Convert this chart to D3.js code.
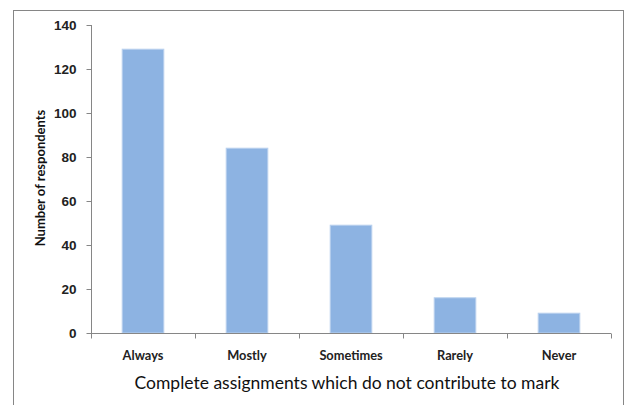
<!DOCTYPE html>
<html>
<head>
<meta charset="utf-8">
<script src="https://cdn.jsdelivr.net/npm/d3@7"></script>
<style>
  body { margin: 0; background: #fff; }
  svg { display: block; font-family: Lato, "Open Sans", sans-serif; }
  .axis path, .axis line { stroke: #868686; }
  .tick text { font-size: 13.5px; font-weight: bold; fill: #222; }
</style>
</head>
<body>
<div id="chart"></div>
<script>
  const categories = ['Always', 'Mostly', 'Sometimes', 'Rarely', 'Never'];
  const respondents = [129, 84, 49, 16, 9];
  const yTicks = [0, 20, 40, 60, 80, 100, 120, 140];

  const W = 630, H = 405;
  const margin = { top: 25, right: 19, bottom: 72, left: 91 };

  const svg = d3.select('#chart').append('svg')
    .attr('width', W)
    .attr('height', H);

  // outer chart frame (bottom edge sits outside the image)
  svg.append('rect')
    .attr('x', 13.5).attr('y', 10.5)
    .attr('width', 610).attr('height', 400)
    .attr('fill', 'none')
    .attr('stroke', '#868686');

  const x = d3.scaleBand()
    .domain(categories)
    .range([margin.left, W - margin.right])
    .paddingInner(0.6)
    .paddingOuter(0.3);

  const y = d3.scaleLinear()
    .domain([0, 140])
    .range([H - margin.bottom, margin.top]);

  svg.selectAll('rect.bar')
    .data(categories)
    .join('rect')
    .attr('class', 'bar')
    .attr('x', d => x(d))
    .attr('width', x.bandwidth())
    .attr('y', (d, i) => y(respondents[i]))
    .attr('height', (d, i) => y(0) - y(respondents[i]))
    .attr('fill', '#8db3e2')
    .attr('stroke', '#b9d1ee')
    .attr('stroke-width', 1);

  // category ticks sit at band edges, like Excel
  const xEdge = d3.scaleLinear().domain([0, categories.length]).range(x.range());

  const gx = svg.append('g')
    .attr('class', 'axis')
    .attr('transform', `translate(0,${y(0) + 0.5})`);
  gx.append('line')
    .attr('x1', x.range()[0]).attr('x2', x.range()[1]);
  gx.selectAll('line.tk')
    .data(d3.range(categories.length + 1))
    .join('line')
    .attr('class', 'tk')
    .attr('x1', d => Math.round(xEdge(d)) + 0.5)
    .attr('x2', d => Math.round(xEdge(d)) + 0.5)
    .attr('y1', 0).attr('y2', 5);
  gx.selectAll('text')
    .data(categories)
    .join('text')
    .attr('x', d => x(d) + x.bandwidth() / 2)
    .attr('y', 26)
    .attr('text-anchor', 'middle')
    .style('font-size', '12.8px')
    .style('font-weight', 'bold')
    .style('fill', '#222')
    .text(d => d);

  svg.append('g')
    .attr('class', 'axis')
    .attr('transform', `translate(${margin.left + 0.5},0)`)
    .call(d3.axisLeft(y).tickValues(yTicks).tickSize(5).tickPadding(10))
    .call(g => g.select('.domain').attr('d', `M0,${y(140)}V${y(0)}`));

  svg.append('text')
    .attr('x', (x.range()[0] + x.range()[1]) / 2 - 4)
    .attr('y', 389)
    .attr('text-anchor', 'middle')
    .style('font-size', '17.5px')
    .style('fill', '#111')
    .text('Complete assignments which do not contribute to mark');

  svg.append('text')
    .attr('transform', 'translate(45,178) rotate(-90)')
    .attr('text-anchor', 'middle')
    .style('font-size', '13px')
    .style('font-weight', 'bold')
    .style('fill', '#111')
    .text('Number of respondents');
</script>
</body>
</html>
